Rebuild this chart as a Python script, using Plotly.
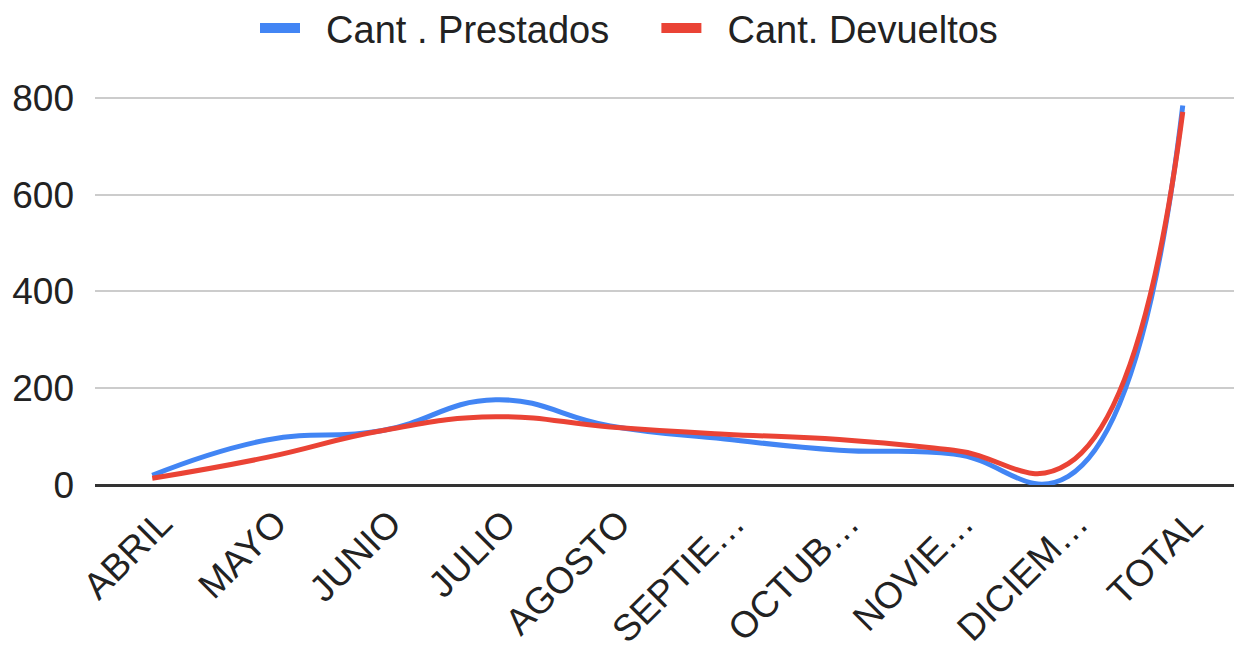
import plotly.graph_objects as go

meses = ["ABRIL", "MAYO", "JUNIO", "JULIO", "AGOSTO", "SEPTIE…", "OCTUB…",
         "NOVIE…", "DICIEM…", "TOTAL"]
prestados = [20, 93, 112, 176, 122, 95, 72, 64, 18, 784]
devueltos = [14, 57, 112, 141, 120, 105, 94, 72, 44, 771]

azul = "#4285F4"
rojo = "#EA4335"
fuente = "Liberation Sans, Arial, sans-serif"
pad = "\u00a0\u00a0"

fig = go.Figure()

fig.add_trace(go.Scatter(
    x=meses, y=prestados, mode="lines", name="Cant . Prestados",
    line=dict(color=azul, width=5, shape="spline", smoothing=1.3),
    showlegend=False
))
fig.add_trace(go.Scatter(
    x=meses, y=devueltos, mode="lines", name="Cant. Devueltos",
    line=dict(color=rojo, width=5, shape="spline", smoothing=1.3),
    showlegend=False
))

# legend-only entries so the swatches look like thick bars
fig.add_trace(go.Scatter(x=[None], y=[None], mode="lines",
                         name=pad + "Cant . Prestados" + pad + pad,
                         line=dict(color=azul, width=11)))
fig.add_trace(go.Scatter(x=[None], y=[None], mode="lines",
                         name=pad + "Cant. Devueltos",
                         line=dict(color=rojo, width=11)))

fig.update_layout(
    width=1242, height=651,
    margin=dict(l=87, r=10, t=85, b=174),
    paper_bgcolor="white",
    plot_bgcolor="white",
    font=dict(family=fuente, size=37, color="#222222"),
    legend=dict(
        orientation="h", xref="container", yref="container",
        x=0.5, xanchor="center", y=0.969, yanchor="middle",
        font=dict(size=38), itemwidth=40,
    ),
    xaxis=dict(
        type="category", range=[-0.5, 9.5], tickangle=-45,
        showgrid=False, ticks="", ticklen=0, showline=False,
        tickfont=dict(size=37), automargin=False,
        ticklabelstandoff=8, ticklabelshift=9,
    ),
    yaxis=dict(
        range=[0, 810], tickvals=[0, 200, 400, 600, 800],
        showgrid=True, gridcolor="#cccccc", gridwidth=1.5,
        zeroline=True, zerolinecolor="#333333", zerolinewidth=3,
        ticks="", ticklabelstandoff=20, tickfont=dict(size=37),
        automargin=False,
    ),
)

fig.write_html("out.html")
